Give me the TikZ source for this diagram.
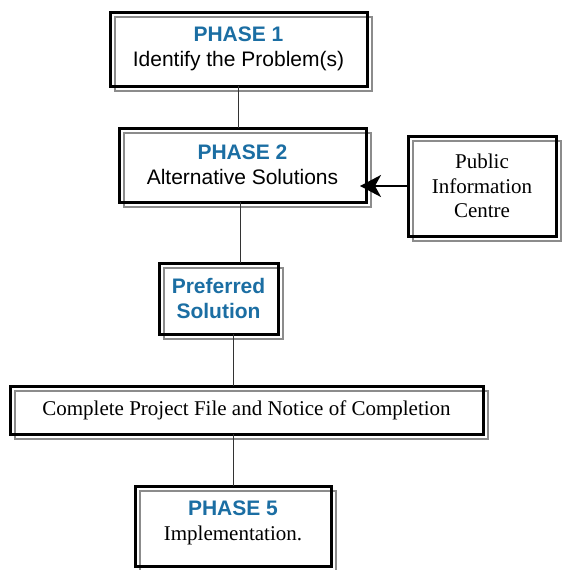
\documentclass[tikz,border=0pt]{standalone}
\usepackage{fontspec}
\setmainfont{Liberation Serif}
\newfontfamily\arialf{Liberation Sans}
\usetikzlibrary{arrows.meta,backgrounds,calc}
\definecolor{phaseblue}{RGB}{27,110,163}
\begin{document}
\begin{tikzpicture}[x=1pt,y=-1pt,
  box/.style={draw=black,line width=3pt,rectangle,inner sep=0pt,outer sep=0pt,align=center,font=\fontsize{21}{24.5}\selectfont},
  shadowbox/.style={draw=black!45,line width=2.5pt},
  link/.style={draw=black!80,line width=1pt}]
\useasboundingbox (0,0) rectangle (563,570);
\node[box,minimum width=257pt,minimum height=74pt] (p1) at (238.5,49)
  {{\arialf\bfseries\color{phaseblue}PHASE 1}\\{\arialf Identify the Problem(s)}};
\node[box,minimum width=247pt,minimum height=74pt] (p2) at (242.5,165)
  {{\arialf\bfseries\color{phaseblue}PHASE 2}\\{\arialf Alternative Solutions}};
\node[box,minimum width=148pt,minimum height=100pt] (pub) at (482,186)
  {Public\\Information\\Centre};
\node[box,minimum width=119pt,minimum height=71pt] (pref) at (218.5,298.5)
  {{\arialf\bfseries\color{phaseblue}Preferred}\\{\arialf\bfseries\color{phaseblue}Solution}};
\node[box,minimum width=473pt,minimum height=48pt] (comp) at (246.5,410)
  {Complete Project File and Notice of Completion};
\node[box,minimum width=196pt,minimum height=80pt] (p5) at (233,526)
  {{\arialf\bfseries\color{phaseblue}PHASE 5}\\Implementation.\\[-14pt]};
\begin{scope}[on background layer]
  \fill[white] (0,0) rectangle (563,570);
  \foreach \n in {p1,p2,pub,pref,comp,p5}{
    \draw[shadowbox] ($(\n.north west)+(5,5)$) rectangle ($(\n.south east)+(5,5)$);
  }
\end{scope}
\coordinate (x238) at (238,0);
\coordinate (x240) at (240,0);
\coordinate (x233) at (233,0);
\coordinate (tip) at (360,186);
\draw[link] (p1.south -| x238) -- (p2.north -| x238);
\draw[link] (p2.south -| x240) -- (pref.north -| x240);
\draw[link] (pref.south -| x233) -- (comp.north -| x233);
\draw[link] (comp.south -| x233) -- (p5.north -| x233);
\draw[line width=2pt,-{Stealth[length=21pt,width=22pt,inset=6pt]}] (pub.west |- tip) -- (tip);
\end{tikzpicture}
\end{document}
